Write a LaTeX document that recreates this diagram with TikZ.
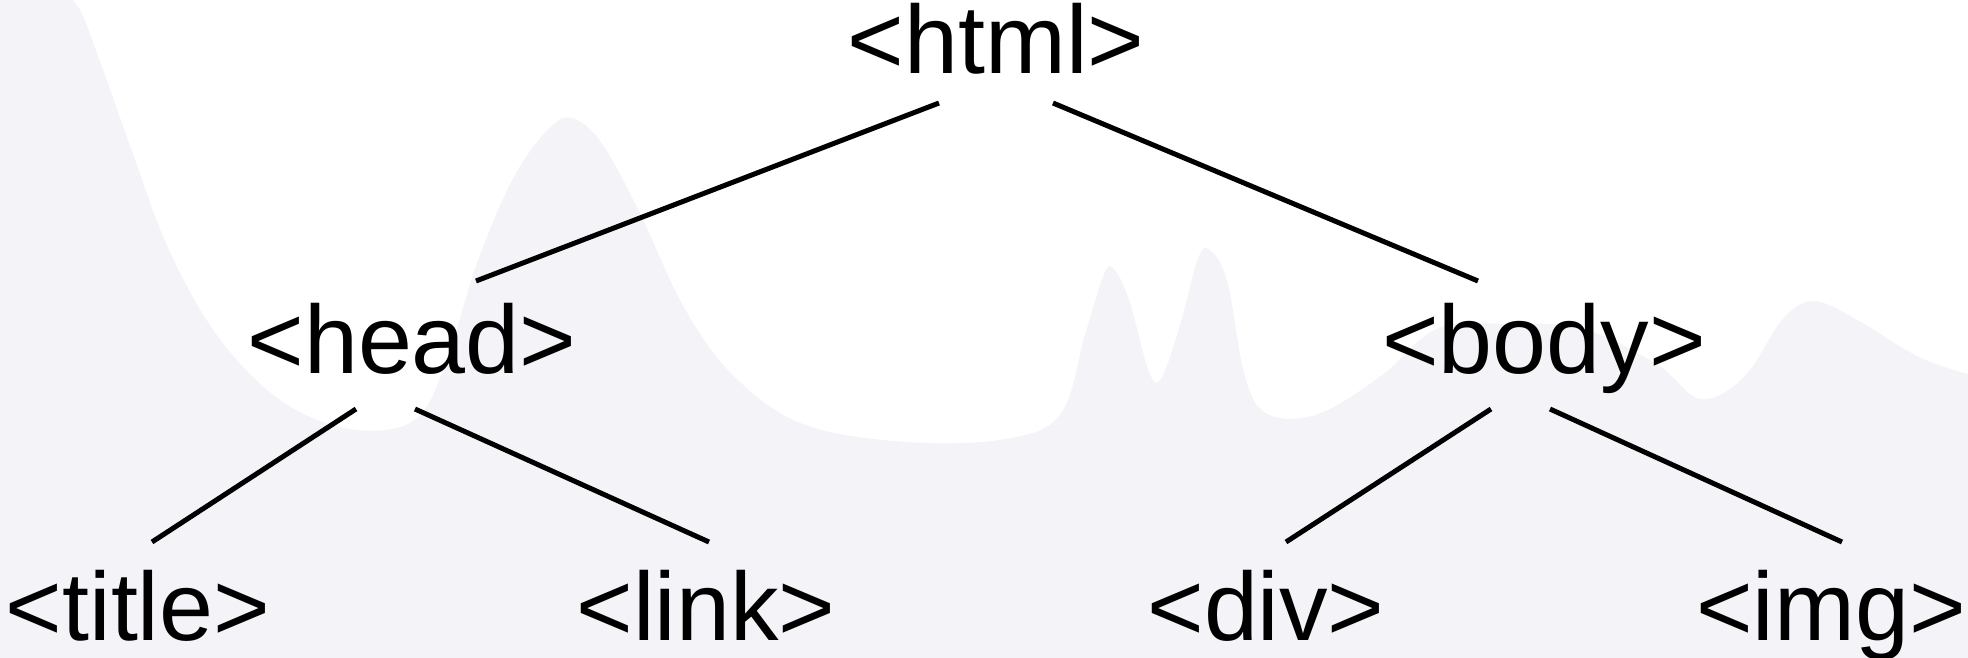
\documentclass[tikz,border=0pt]{standalone}
\usepackage{fontspec}
\setmainfont{Liberation Sans}
\definecolor{mtngrey}{RGB}{244,244,248}
\begin{document}
\begin{tikzpicture}[x=1pt,y=-1pt,
  tag/.style={anchor=base,inner sep=0pt,text height=0.72em,text depth=0.2em,
              font=\fontsize{97}{97}\selectfont},
  edge/.style={line width=5pt,black}]
\useasboundingbox (0,0) rectangle (1968,657);
\fill[white] (0,0) rectangle (1968,657);
% background hills
\begin{scope}[scale=1.255]
\fill[mtngrey] (0,523) -- (0,0) -- plot[smooth,tension=0.6] coordinates {
 (45,-5) (62,5) (80,50) (105,120) (135,200) (175,270) (225,320) (280,342)
 (330,335) (355,290) (380,210) (410,140) (440,100) (458,95) (480,115)
 (510,170) (545,245) (585,300) (640,338) (720,352) (800,350) (845,330)
 (865,265) (880,218) (888,215) (900,240) (915,295) (925,302) (940,260)
 (955,205) (965,200) (978,225) (992,300) (1010,330) (1050,330) (1100,300)
 (1145,262) (1200,258) (1261,262) (1320,290) (1355,318) (1390,300)
 (1420,255) (1445,240) (1480,255) (1530,285) (1575,300)}
 -- (1575,530) -- (0,530) -- cycle;
\end{scope}
% nodes
\node[tag] (html)  at (996,73)   {<html>};
\node[tag] (head)  at (412,373)  {<head>};
\node[tag] (body)  at (1544,373) {<body>};
\node[tag] (title) at (138,640)  {<title>};
\node[tag] (link)  at (706,640)  {<link>};
\node[tag] (div)   at (1266,640) {<div>};
\node[tag] (img)   at (1831,640) {<img>};
% connectors
\draw[edge] ([shift={(-57,30)}]html.base) -- ([shift={(64,-92)}]head.base);
\draw[edge] ([shift={(57,30)}]html.base) -- ([shift={(-66,-92)}]body.base);
\draw[edge] ([shift={(-56,36)}]head.base) -- ([shift={(14,-98)}]title.base);
\draw[edge] ([shift={(3,36)}]head.base) -- ([shift={(3,-98)}]link.base);
\draw[edge] ([shift={(-53,36)}]body.base) -- ([shift={(20,-98)}]div.base);
\draw[edge] ([shift={(6,36)}]body.base) -- ([shift={(11,-98)}]img.base);
\end{tikzpicture}
\end{document}
